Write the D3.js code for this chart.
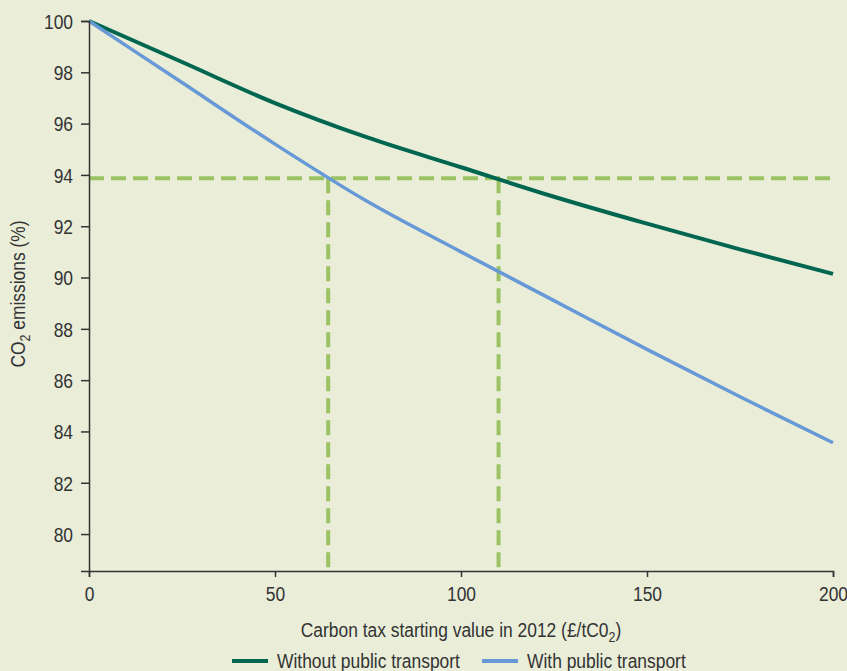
<!DOCTYPE html>
<html>
<head>
	<script src="https://d3js.org/d3.v7.min.js"></script>
	<style>
		body { margin: 0; background: #eaeed9; }
		svg text { font-family: "Liberation Sans", Arial, sans-serif; fill: #333; }
	</style>
</head>
<body>
<svg id="container"></svg>
<script>
// data
let taxValues = [0, 25, 50, 75, 100, 125, 150, 175, 200];
let withoutTransport = [100, 98.4, 96.8, 95.45, 94.3, 93.15, 92.1, 91.1, 90.14];
let withTransport = [100, 97.6, 95.2, 92.95, 91.0, 89.1, 87.2, 85.35, 83.56];
let xTicks = [0, 50, 100, 150, 200];
let yTicks = [80, 82, 84, 86, 88, 90, 92, 94, 96, 98, 100];
let targetLevel = 93.87;
let crossTaxes = [64.3, 110.1];
let seriesNames = ['Without public transport', 'With public transport'];
let seriesColors = ['#00664f', '#6799d6'];

let width = 847, height = 671;
let margin = {left: 89, right: 14, top: 21, bottom: 100};
let squeeze = 0.83;
let fontSize = 21;

// condensed look: squeeze each text horizontally around its anchor
let narrow = function(sel) {
	sel.each(function() {
		let t = d3.select(this);
		let ax = +t.attr('x') || 0;
		let prev = t.attr('transform') || '';
		t.attr('transform', `${prev} translate(${ax},0) scale(${squeeze},1) translate(${-ax},0)`);
	});
}

let svg = d3.select('#container')
	.attr('width', width)
	.attr('height', height);

let x = d3.scaleLinear().domain([0, 200]).range([margin.left, width - margin.right]);
let y = d3.scaleLinear().domain([78.56, 100]).range([height - margin.bottom, margin.top]);

// dashed guides
let guide = svg.append('g')
	.attr('stroke', '#9bc263')
	.attr('stroke-width', 4)
	.attr('stroke-dasharray', '15,7')
	.attr('fill', 'none');

guide.append('line')
	.attr('x1', x(0)).attr('x2', x(200))
	.attr('y1', y(targetLevel)).attr('y2', y(targetLevel));

guide.selectAll('line.v')
	.data(crossTaxes)
	.enter()
	.append('line')
	.attr('class', 'v')
	.attr('x1', (d) => x(d)).attr('x2', (d) => x(d))
	.attr('y1', y(targetLevel)).attr('y2', y.range()[0]);

// lines
let line = d3.line()
	.curve(d3.curveMonotoneX)
	.x((d, i) => x(taxValues[i]))
	.y((d) => y(d));

[withoutTransport, withTransport].forEach((s, i) => {
	svg.append('path')
		.datum(s)
		.attr('d', line)
		.attr('fill', 'none')
		.attr('stroke', seriesColors[i])
		.attr('stroke-width', i === 0 ? 4 : 3.5);
});

// axes
let xAxis = svg.append('g')
	.attr('transform', `translate(0,${y.range()[0]})`)
	.call(d3.axisBottom(x).tickValues(xTicks).tickSize(6).tickPadding(9));

let yAxis = svg.append('g')
	.attr('transform', `translate(${margin.left},0)`)
	.call(d3.axisLeft(y).tickValues(yTicks).tickSize(8).tickPadding(8));

[xAxis, yAxis].forEach((a) => {
	a.select('.domain').attr('stroke', '#333').attr('stroke-width', 1.5);
	a.selectAll('.tick line').attr('stroke', '#333').attr('stroke-width', 1.5);
	a.selectAll('.tick text').style('font-size', fontSize + 'px').attr('fill', '#333').call(narrow);
});
yAxis.selectAll('.tick text').attr('dy', '0.35em');

// axis titles
let xTitle = svg.append('text')
	.attr('x', 461)
	.attr('y', 637)
	.attr('text-anchor', 'middle')
	.style('font-size', fontSize + 'px');
xTitle.append('tspan').text('Carbon tax starting value in 2012 (£/tC0');
xTitle.append('tspan').attr('dy', 5).style('font-size', '15px').text('2');
xTitle.append('tspan').attr('dy', -5).text(')');
xTitle.call(narrow);

let yTitle = svg.append('text')
	.attr('transform', `translate(25,294) rotate(-90)`)
	.attr('text-anchor', 'middle')
	.style('font-size', fontSize + 'px');
yTitle.append('tspan').text('CO');
yTitle.append('tspan').attr('dy', 5).style('font-size', '15px').text('2');
yTitle.append('tspan').attr('dy', -5).text(' emissions (%)');
yTitle.call(narrow);

// legend
let legendX = [232, 482];
let legend = svg.append('g');
seriesNames.forEach((name, i) => {
	legend.append('line')
		.attr('x1', legendX[i]).attr('x2', legendX[i] + 36)
		.attr('y1', 661).attr('y2', 661)
		.attr('stroke', seriesColors[i])
		.attr('stroke-width', 4);
	legend.append('text')
		.attr('x', legendX[i] + 45)
		.attr('y', 668)
		.style('font-size', fontSize + 'px')
		.text(name)
		.call(narrow);
});
</script>
</body>
</html>
